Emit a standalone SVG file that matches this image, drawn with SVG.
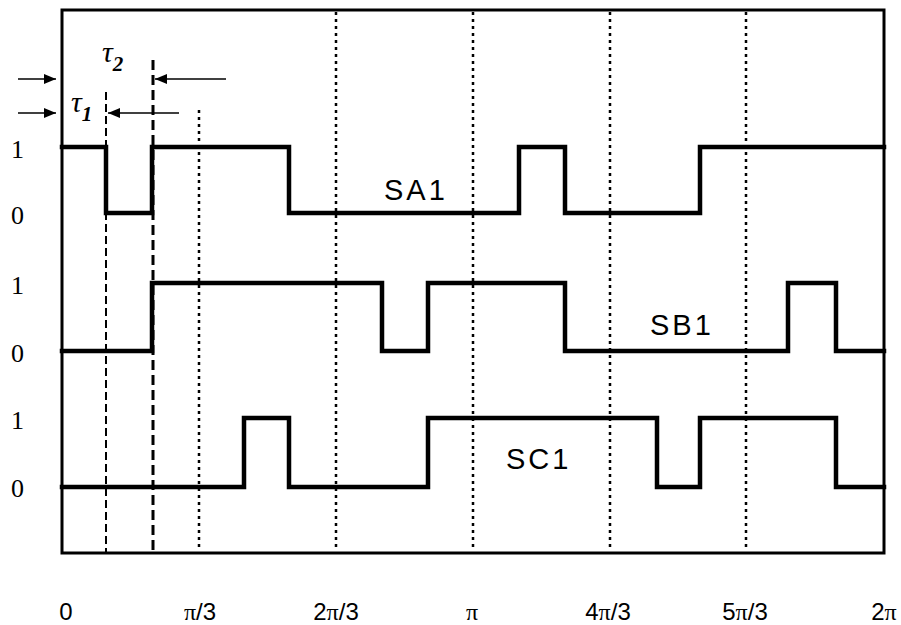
<svg xmlns="http://www.w3.org/2000/svg" width="901" height="625" viewBox="0 0 901 625">
<style>
.wave{fill:none;stroke:#000;stroke-width:4.5;stroke-linejoin:miter;stroke-linecap:square}
.dot{stroke:#000;stroke-width:2.5;stroke-dasharray:3 4}
.tau1{stroke:#000;stroke-width:2;stroke-dasharray:8 4}
.tau2{stroke:#000;stroke-width:3;stroke-dasharray:10 5}
.arr{stroke:#000;stroke-width:1.3;fill:none}
.lv{font-family:"Liberation Serif",serif;font-size:26px;fill:#000}
.ax{font-family:"Liberation Sans",sans-serif;font-size:24px;fill:#000;text-anchor:middle}
.pi{font-family:"Liberation Serif",serif}
.sig{font-family:"Liberation Sans",sans-serif;font-size:29px;letter-spacing:3px;fill:#000}
.tau{font-family:"Liberation Serif",serif;font-style:italic;fill:#000}
</style>
<defs>
<marker id="ah" viewBox="0 0 12 10" refX="12" refY="5" markerWidth="12" markerHeight="10" markerUnits="userSpaceOnUse" orient="auto">
<path d="M0,0 L12,5 L0,10 z" fill="#000"/>
</marker>
</defs>
<rect width="901" height="625" fill="#fff"/>
<g id="frame">
<rect x="62" y="10" width="822" height="543" fill="none" stroke="#000" stroke-width="3"/>
</g>
<g id="gridlines">
<line class="dot" x1="199" y1="110" x2="199" y2="550"/>
<line class="dot" x1="336" y1="12" x2="336" y2="550"/>
<line class="dot" x1="473" y1="12" x2="473" y2="550"/>
<line class="dot" x1="610" y1="12" x2="610" y2="550"/>
<line class="dot" x1="746" y1="12" x2="746" y2="550"/>
<line class="tau1" x1="106" y1="92" x2="106" y2="552"/>
<line class="tau2" x1="153" y1="60" x2="153" y2="552"/>
</g>
<g id="connectors">
<line class="arr" x1="18" y1="79" x2="56" y2="79" marker-end="url(#ah)"/>
<line class="arr" x1="226" y1="79" x2="155" y2="79" marker-end="url(#ah)"/>
<line class="arr" x1="18" y1="113" x2="56" y2="113" marker-end="url(#ah)"/>
<line class="arr" x1="179" y1="113" x2="108" y2="113" marker-end="url(#ah)"/>
</g>
<g id="SA1">
<polyline class="wave" points="62,147 106,147 106,213 152,213 152,147 289,147 289,213 519,213 519,147 565,147 565,213 700,213 700,147 884,147"/>
<text class="sig" x="384" y="200">SA1</text>
</g>
<g id="SB1">
<polyline class="wave" points="62,351 152,351 152,283 382,283 382,351 428,351 428,283 565,283 565,351 788,351 788,283 836,283 836,351 884,351"/>
<text class="sig" x="650" y="335">SB1</text>
</g>
<g id="SC1">
<polyline class="wave" points="62,487 244,487 244,418 289,418 289,487 428,487 428,418 657,418 657,487 700,487 700,418 836,418 836,487 884,487"/>
<text class="sig" x="506" y="469">SC1</text>
</g>
<g id="levels">
<text class="lv" x="11" y="158">1</text>
<text class="lv" x="11" y="224">0</text>
<text class="lv" x="11" y="294">1</text>
<text class="lv" x="11" y="362">0</text>
<text class="lv" x="11" y="429">1</text>
<text class="lv" x="11" y="497">0</text>
</g>
<g id="tau-labels">
<text class="tau" x="102" y="62" font-size="30">τ<tspan font-size="21" dy="9" font-weight="bold">2</tspan></text>
<text class="tau" x="71" y="112" font-size="30">τ<tspan font-size="21" dy="9" font-weight="bold">1</tspan></text>
</g>
<g id="axis-labels">
<text class="ax" x="66" y="620">0</text>
<text class="ax" x="200" y="620"><tspan class="pi">π</tspan>/3</text>
<text class="ax" x="336" y="620">2<tspan class="pi">π</tspan>/3</text>
<text class="ax" x="472" y="620"><tspan class="pi">π</tspan></text>
<text class="ax" x="608" y="620">4<tspan class="pi">π</tspan>/3</text>
<text class="ax" x="745" y="620">5<tspan class="pi">π</tspan>/3</text>
<text class="ax" x="884" y="620">2<tspan class="pi">π</tspan></text>
</g>
</svg>
